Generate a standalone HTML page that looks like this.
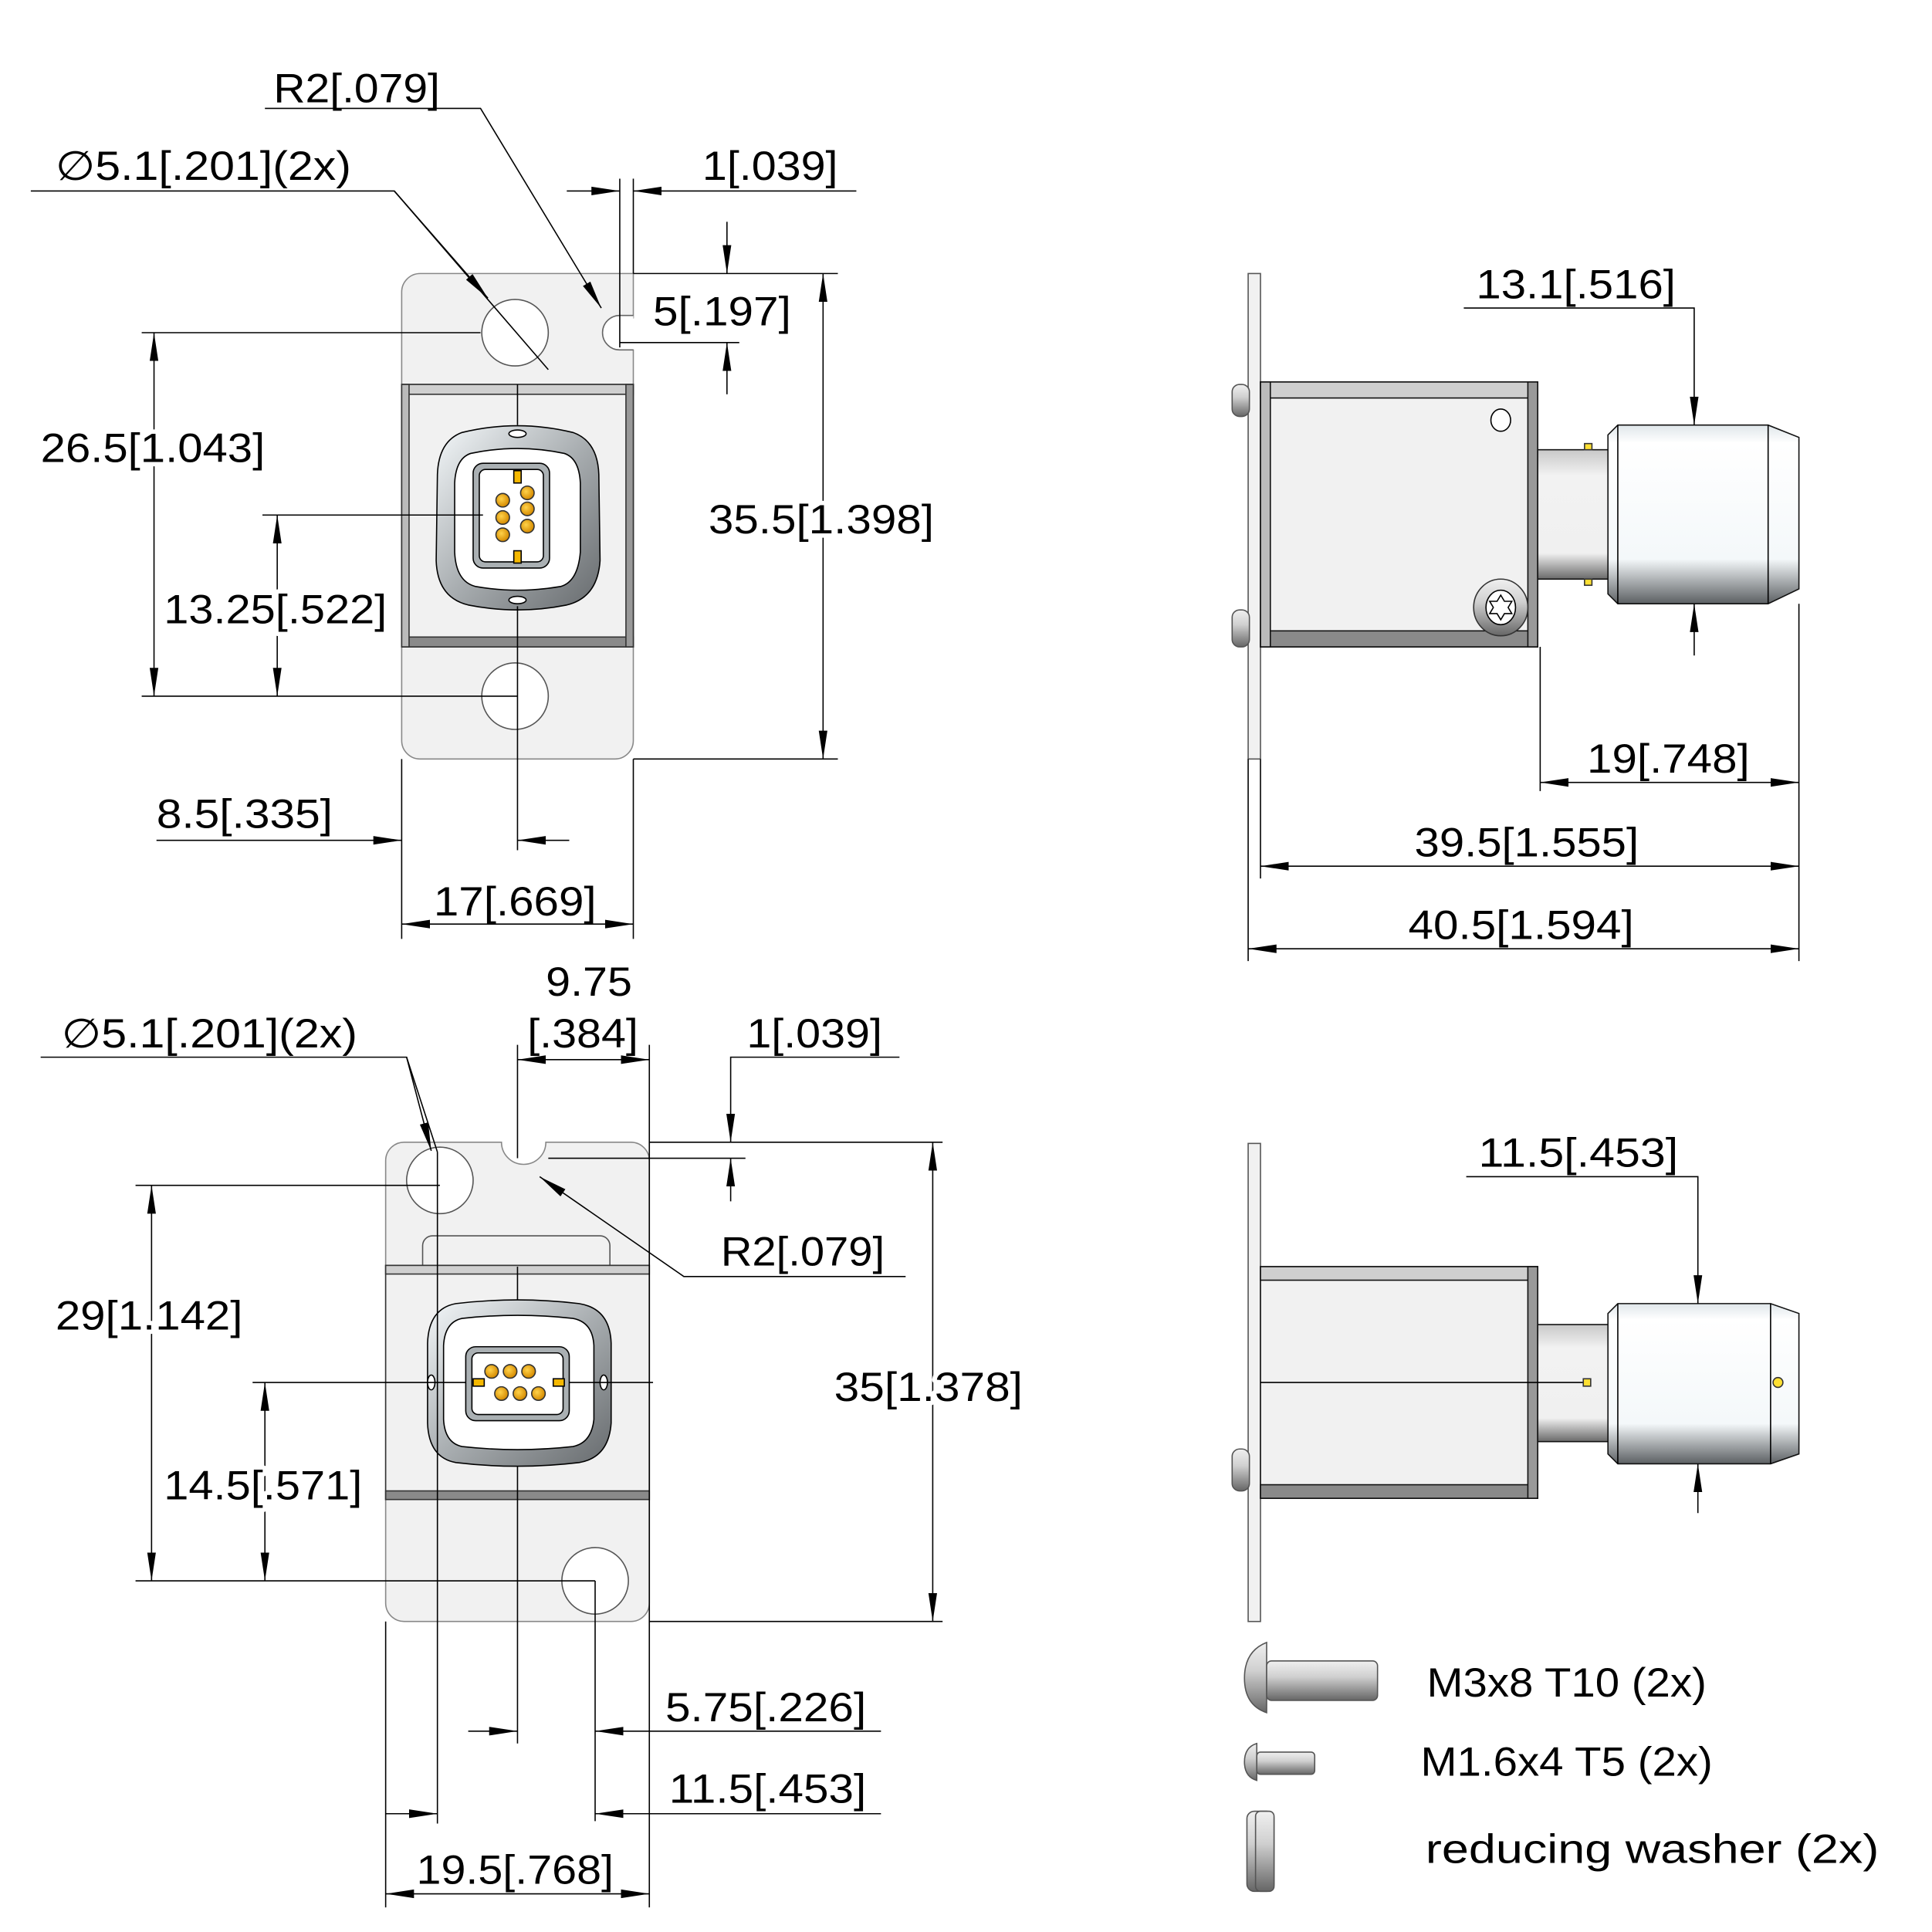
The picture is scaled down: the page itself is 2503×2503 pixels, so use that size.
<!DOCTYPE html>
<html><head><meta charset="utf-8"><style>
html,body{margin:0;padding:0;background:#fff}
svg{display:block}
text{font-family:"Liberation Sans","DejaVu Sans",sans-serif;font-size:33px;fill:#000}
text.h{stroke:#fff;stroke-width:7px;paint-order:stroke;stroke-linejoin:round}
</style></head><body>
<svg width="2503" height="2503" viewBox="0 0 1568 1568" xmlns="http://www.w3.org/2000/svg">
<defs>
<marker id="a" markerUnits="userSpaceOnUse" markerWidth="24" markerHeight="10" refX="23" refY="4" orient="auto-start-reverse"><path d="M0,0.5 L23,4 L0,7.5 z" fill="#000"/></marker>
<linearGradient id="cap" x1="0" y1="0" x2="0" y2="1"><stop offset="0" stop-color="#dfe6ea"/><stop offset="0.1" stop-color="#fff"/><stop offset="0.75" stop-color="#f4f8fa"/><stop offset="1" stop-color="#5c6063"/></linearGradient>
<linearGradient id="neck" x1="0" y1="0" x2="0" y2="1"><stop offset="0" stop-color="#c8c8c8"/><stop offset="0.2" stop-color="#f2f2f2"/><stop offset="0.8" stop-color="#f0f0f0"/><stop offset="1" stop-color="#6a6a6a"/></linearGradient>
<linearGradient id="ring" x1="0" y1="0" x2="1" y2="1"><stop offset="0" stop-color="#f4f8fa"/><stop offset="0.5" stop-color="#a9aeb1"/><stop offset="1" stop-color="#666a6d"/></linearGradient>
<radialGradient id="pin" cx="0.4" cy="0.4" r="0.6"><stop offset="0" stop-color="#ffd24a"/><stop offset="1" stop-color="#d58a00"/></radialGradient>
<linearGradient id="scr" x1="0" y1="0" x2="0" y2="1"><stop offset="0" stop-color="#f0f0f0"/><stop offset="0.4" stop-color="#d0d0d0"/><stop offset="1" stop-color="#666"/></linearGradient>
</defs>

<g stroke="#000" stroke-width="1" fill="none">
<path d="M341,222 H514 V258 A14,14 0 0 0 514,284 V601 A15,15 0 0 1 499,616 H341 A15,15 0 0 1 326,601 V237 A15,15 0 0 1 341,222 Z" fill="#f1f1f1" stroke="#888"/>
<path d="M514,256 H503 A14,14 0 0 0 503,284 H514" fill="#fff" stroke="#666"/>
<circle cx="418" cy="270" r="27" fill="#fff" stroke="#555"/>
<circle cx="418" cy="565" r="27" fill="#fff" stroke="#555"/>
<rect x="326" y="312" width="188" height="213" fill="#f1f1f1" stroke="#333"/>
<rect x="326" y="312" width="188" height="8" fill="#cfcfcf" stroke="#333"/>
<rect x="326" y="517" width="188" height="8" fill="#8a8a8a" stroke="#333"/>
<rect x="326" y="312" width="6" height="213" fill="#bbb" stroke="#333"/>
<rect x="508" y="312" width="6" height="213" fill="#999" stroke="#333"/>
<path d="M375,351 Q420,340 465,351 Q485,358 486,385 L487,455 Q485,485 460,491 Q420,499 380,491 Q355,485 354,455 L355,385 Q356,358 375,351 Z" fill="url(#ring)"/>
<path d="M382,368 Q420,360 458,368 Q470,372 471,392 L471,448 Q469,472 455,476 Q420,482 386,476 Q370,472 369,448 L369,392 Q370,372 382,368 Z" fill="#fff"/>
<rect x="384" y="376" width="62" height="85" rx="8" fill="#aab0b3"/>
<rect x="389" y="381" width="52" height="75" rx="5" fill="#fff"/>
<ellipse cx="420" cy="352" rx="7" ry="3" fill="#fff"/><ellipse cx="420" cy="487" rx="7" ry="3" fill="#fff"/>
<rect x="417" y="382" width="6" height="10" fill="#f5b800"/><rect x="417" y="447" width="6" height="10" fill="#f5b800"/>
<g fill="url(#pin)" stroke="#333"><circle cx="408" cy="406" r="5.5"/><circle cx="408" cy="420" r="5.5"/><circle cx="408" cy="434" r="5.5"/><circle cx="428" cy="400" r="5.5"/><circle cx="428" cy="413" r="5.5"/><circle cx="428" cy="427" r="5.5"/></g>
<line x1="420" y1="312" x2="420" y2="345"/><line x1="420" y1="492" x2="420" y2="690"/>
<line x1="213" y1="418" x2="392" y2="418"/>

<polyline points="215,88 390,88 488,250" marker-end="url(#a)"/>
<polyline points="25,155 320,155 445,300"/>
<line x1="320" y1="155" x2="396" y2="242" marker-end="url(#a)"/>
<line x1="460" y1="155" x2="503" y2="155" marker-end="url(#a)"/>
<line x1="695" y1="155" x2="514" y2="155" marker-end="url(#a)"/>
<line x1="503" y1="145" x2="503" y2="282"/><line x1="514" y1="145" x2="514" y2="222"/>
<line x1="514" y1="222" x2="680" y2="222"/><line x1="503" y1="278" x2="600" y2="278"/>
<line x1="590" y1="180" x2="590" y2="222" marker-end="url(#a)"/>
<line x1="590" y1="320" x2="590" y2="278" marker-end="url(#a)"/>
<line x1="668" y1="222" x2="668" y2="616" marker-start="url(#a)" marker-end="url(#a)"/>
<line x1="514" y1="616" x2="680" y2="616"/>
<line x1="115" y1="270" x2="390" y2="270"/><line x1="115" y1="565" x2="420" y2="565"/>
<line x1="125" y1="270" x2="125" y2="565" marker-start="url(#a)" marker-end="url(#a)"/>
<line x1="225" y1="418" x2="225" y2="565" marker-start="url(#a)" marker-end="url(#a)"/>
<line x1="326" y1="616" x2="326" y2="762"/><line x1="514" y1="616" x2="514" y2="762"/>
<line x1="127" y1="682" x2="326" y2="682" marker-end="url(#a)"/>
<line x1="462" y1="682" x2="420" y2="682" marker-end="url(#a)"/>
<line x1="326" y1="750" x2="514" y2="750" marker-start="url(#a)" marker-end="url(#a)"/>

<rect x="1013" y="222" width="10" height="394" fill="#f1f1f1" stroke="#555"/>
<rect x="1000" y="312" width="14" height="26" rx="6" fill="url(#scr)" stroke="#555"/>
<rect x="1000" y="495" width="14" height="30" rx="6" fill="url(#scr)" stroke="#555"/>
<rect x="1023" y="310" width="225" height="215" fill="#f1f1f1" stroke="#111"/>
<rect x="1023" y="310" width="225" height="13" fill="#cfcfcf" stroke="#111"/>
<rect x="1023" y="512" width="225" height="13" fill="#8a8a8a" stroke="#111"/>
<rect x="1023" y="310" width="8" height="215" fill="#bbb" stroke="#111"/>
<rect x="1240" y="310" width="8" height="215" fill="#999" stroke="#111"/>
<ellipse cx="1218" cy="341" rx="8" ry="9" fill="#fff"/>
<ellipse cx="1218" cy="493" rx="22" ry="23" fill="url(#scr)" stroke="#333"/>
<ellipse cx="1218" cy="493" rx="12" ry="14" fill="#fff"/>
<path d="M1218,483 l3,5 6,0 -3,5 3,5 -6,0 -3,5 -3,-5 -6,0 3,-5 -3,-5 6,0z" fill="#fff"/>
<rect x="1248" y="365" width="58" height="105" fill="url(#neck)" stroke="#111"/>
<rect x="1286" y="360" width="6" height="5" fill="#ffe033" stroke="#333"/><rect x="1286" y="470" width="6" height="5" fill="#ffe033" stroke="#333"/>
<path d="M1313,345 H1435 L1460,355 V478 L1435,490 H1313 L1305,482 V353 Z" fill="url(#cap)" stroke="#111"/>
<line x1="1313" y1="345" x2="1313" y2="490"/><line x1="1435" y1="345" x2="1435" y2="490"/>
<polyline points="1188,250 1375,250 1375,345" marker-end="url(#a)"/>
<line x1="1375" y1="532" x2="1375" y2="490" marker-end="url(#a)"/>
<line x1="1250" y1="525" x2="1250" y2="642"/><line x1="1460" y1="490" x2="1460" y2="780"/>
<line x1="1023" y1="616" x2="1023" y2="713"/><line x1="1013" y1="616" x2="1013" y2="780"/>
<line x1="1250" y1="635" x2="1460" y2="635" marker-start="url(#a)" marker-end="url(#a)"/>
<line x1="1023" y1="703" x2="1460" y2="703" marker-start="url(#a)" marker-end="url(#a)"/>
<line x1="1013" y1="770" x2="1460" y2="770" marker-start="url(#a)" marker-end="url(#a)"/>

<path d="M328,927 H407 A18,18 0 0 0 443,927 H512 A15,15 0 0 1 527,942 V1301 A15,15 0 0 1 512,1316 H328 A15,15 0 0 1 313,1301 V942 A15,15 0 0 1 328,927 Z" fill="#f1f1f1" stroke="#888"/>
<circle cx="357" cy="958" r="27" fill="#fff" stroke="#555"/>
<circle cx="483" cy="1283" r="27" fill="#fff" stroke="#555"/>
<rect x="343" y="1003" width="152" height="40" rx="8" fill="#f1f1f1" stroke="#555"/>
<rect x="313" y="1027" width="214" height="190" fill="#f1f1f1" stroke="#333"/>
<rect x="313" y="1027" width="214" height="7" fill="#cfcfcf" stroke="#333"/>
<rect x="313" y="1210" width="214" height="7" fill="#8a8a8a" stroke="#333"/>
<path d="M370,1058 Q420,1052 470,1058 Q495,1062 496,1090 L496,1155 Q494,1183 470,1187 Q420,1193 370,1187 Q348,1183 347,1155 L347,1090 Q348,1062 370,1058 Z" fill="url(#ring)"/>
<path d="M375,1070 Q420,1065 465,1070 Q481,1073 482,1092 L482,1152 Q480,1171 465,1174 Q420,1179 375,1174 Q361,1171 360,1152 L360,1092 Q361,1073 375,1070 Z" fill="#fff"/>
<rect x="378" y="1093" width="84" height="60" rx="8" fill="#aab0b3"/>
<rect x="383" y="1098" width="74" height="50" rx="5" fill="#fff"/>
<rect x="384" y="1119" width="9" height="6" fill="#f5b800"/><rect x="449" y="1119" width="9" height="6" fill="#f5b800"/>
<ellipse cx="350" cy="1122" rx="3" ry="6" fill="#fff"/><ellipse cx="490" cy="1122" rx="3" ry="6" fill="#fff"/>
<g fill="url(#pin)" stroke="#333"><circle cx="399" cy="1113" r="5.5"/><circle cx="414" cy="1113" r="5.5"/><circle cx="429" cy="1113" r="5.5"/><circle cx="407" cy="1131" r="5.5"/><circle cx="422" cy="1131" r="5.5"/><circle cx="437" cy="1131" r="5.5"/></g>
<line x1="420" y1="1028" x2="420" y2="1055"/><line x1="420" y1="1190" x2="420" y2="1415"/>
<line x1="205" y1="1122" x2="378" y2="1122"/><line x1="462" y1="1122" x2="530" y2="1122"/>

<line x1="420" y1="848" x2="420" y2="940"/><line x1="527" y1="848" x2="527" y2="1548"/>
<line x1="420" y1="860" x2="527" y2="860" marker-start="url(#a)" marker-end="url(#a)"/>
<polyline points="33,858 330,858 355,935" />
<line x1="330" y1="858" x2="350" y2="934" marker-end="url(#a)"/>
<line x1="355" y1="935" x2="355" y2="1480"/>
<polyline points="730,858 593,858 593,927" marker-end="url(#a)"/>
<line x1="593" y1="975" x2="593" y2="940" marker-end="url(#a)"/>
<line x1="527" y1="927" x2="765" y2="927"/><line x1="445" y1="940" x2="605" y2="940"/>
<polyline points="735,1036 555,1036 438,955" marker-end="url(#a)"/>
<line x1="757" y1="927" x2="757" y2="1316" marker-start="url(#a)" marker-end="url(#a)"/>
<line x1="527" y1="1316" x2="765" y2="1316"/>
<line x1="110" y1="962" x2="357" y2="962"/><line x1="110" y1="1283" x2="483" y2="1283"/>
<line x1="123" y1="962" x2="123" y2="1283" marker-start="url(#a)" marker-end="url(#a)"/>
<line x1="215" y1="1122" x2="215" y2="1283" marker-start="url(#a)" marker-end="url(#a)"/>
<line x1="483" y1="1283" x2="483" y2="1478"/><line x1="313" y1="1316" x2="313" y2="1548"/>
<line x1="380" y1="1405" x2="420" y2="1405" marker-end="url(#a)"/>
<line x1="715" y1="1405" x2="483" y2="1405" marker-end="url(#a)"/>
<line x1="313" y1="1472" x2="355" y2="1472" marker-end="url(#a)"/>
<line x1="715" y1="1472" x2="483" y2="1472" marker-end="url(#a)"/>
<line x1="313" y1="1537" x2="527" y2="1537" marker-start="url(#a)" marker-end="url(#a)"/>

<rect x="1013" y="928" width="10" height="388" fill="#f1f1f1" stroke="#555"/>
<rect x="1000" y="1176" width="14" height="34" rx="6" fill="url(#scr)" stroke="#555"/>
<rect x="1023" y="1028" width="225" height="188" fill="#f1f1f1" stroke="#111"/>
<rect x="1023" y="1028" width="225" height="11" fill="#cfcfcf" stroke="#111"/>
<rect x="1023" y="1205" width="225" height="11" fill="#8a8a8a" stroke="#111"/>
<rect x="1240" y="1028" width="8" height="188" fill="#999" stroke="#111"/>
<rect x="1248" y="1075" width="58" height="95" fill="url(#neck)" stroke="#111"/>
<path d="M1313,1058 H1437 L1460,1066 V1180 L1437,1188 H1313 L1305,1180 V1066 Z" fill="url(#cap)" stroke="#111"/>
<line x1="1313" y1="1058" x2="1313" y2="1188"/><line x1="1437" y1="1058" x2="1437" y2="1188"/>
<line x1="1023" y1="1122" x2="1285" y2="1122"/>
<rect x="1285" y="1119" width="6" height="6" fill="#ffe033" stroke="#333"/>
<circle cx="1443" cy="1122" r="4" fill="#ffe033" stroke="#333"/>
<polyline points="1190,955 1378,955 1378,1058" marker-end="url(#a)"/>
<line x1="1378" y1="1228" x2="1378" y2="1188" marker-end="url(#a)"/>

<path d="M1028,1333 Q1010,1340 1010,1362 Q1010,1384 1028,1390 Z" fill="url(#scr)" stroke="#555"/>
<rect x="1028" y="1348" width="90" height="32" rx="4" fill="url(#scr)" stroke="#555"/>
<path d="M1020,1415 Q1010,1418 1010,1430 Q1010,1442 1020,1445 Z" fill="url(#scr)" stroke="#555"/>
<rect x="1020" y="1422" width="47" height="18" rx="3" fill="url(#scr)" stroke="#555"/>
<rect x="1012" y="1470" width="22" height="65" rx="6" fill="url(#scr)" stroke="#555"/>
<rect x="1019" y="1470" width="15" height="65" rx="4" fill="url(#scr)" stroke="#555"/>
</g>

<g>
<text x="222" y="83" textLength="135" lengthAdjust="spacingAndGlyphs">R2[.079]</text>
<text x="45" y="146" textLength="240" lengthAdjust="spacingAndGlyphs">∅5.1[.201](2x)</text>
<text x="570" y="146" textLength="110" lengthAdjust="spacingAndGlyphs">1[.039]</text>
<text x="530" y="264" textLength="112" lengthAdjust="spacingAndGlyphs">5[.197]</text>
<text class="h" x="33" y="375" textLength="182" lengthAdjust="spacingAndGlyphs">26.5[1.043]</text>
<text class="h" x="575" y="433" textLength="183" lengthAdjust="spacingAndGlyphs">35.5[1.398]</text>
<text class="h" x="133" y="506" textLength="181" lengthAdjust="spacingAndGlyphs">13.25[.522]</text>
<text x="127" y="672" textLength="143" lengthAdjust="spacingAndGlyphs">8.5[.335]</text>
<text x="352" y="743" textLength="132" lengthAdjust="spacingAndGlyphs">17[.669]</text>
<text x="1198" y="242" textLength="162" lengthAdjust="spacingAndGlyphs">13.1[.516]</text>
<text x="1288" y="627" textLength="132" lengthAdjust="spacingAndGlyphs">19[.748]</text>
<text x="1148" y="695" textLength="182" lengthAdjust="spacingAndGlyphs">39.5[1.555]</text>
<text x="1143" y="762" textLength="183" lengthAdjust="spacingAndGlyphs">40.5[1.594]</text>
<text x="443" y="808" textLength="70" lengthAdjust="spacingAndGlyphs">9.75</text>
<text x="428" y="850" textLength="90" lengthAdjust="spacingAndGlyphs">[.384]</text>
<text x="50" y="850" textLength="240" lengthAdjust="spacingAndGlyphs">∅5.1[.201](2x)</text>
<text x="606" y="850" textLength="110" lengthAdjust="spacingAndGlyphs">1[.039]</text>
<text x="585" y="1027" textLength="133" lengthAdjust="spacingAndGlyphs">R2[.079]</text>
<text class="h" x="45" y="1079" textLength="152" lengthAdjust="spacingAndGlyphs">29[1.142]</text>
<text class="h" x="677" y="1137" textLength="153" lengthAdjust="spacingAndGlyphs">35[1.378]</text>
<text class="h" x="133" y="1217" textLength="161" lengthAdjust="spacingAndGlyphs">14.5[.571]</text>
<text x="540" y="1397" textLength="163" lengthAdjust="spacingAndGlyphs">5.75[.226]</text>
<text x="543" y="1463" textLength="160" lengthAdjust="spacingAndGlyphs">11.5[.453]</text>
<text x="338" y="1529" textLength="160" lengthAdjust="spacingAndGlyphs">19.5[.768]</text>
<text x="1200" y="947" textLength="162" lengthAdjust="spacingAndGlyphs">11.5[.453]</text>
<text x="1158" y="1377" textLength="227" lengthAdjust="spacingAndGlyphs">M3x8 T10 (2x)</text>
<text x="1153" y="1441" textLength="237" lengthAdjust="spacingAndGlyphs">M1.6x4 T5 (2x)</text>
<text x="1157" y="1512" textLength="368" lengthAdjust="spacingAndGlyphs">reducing washer (2x)</text>
</g>
</svg>
</body></html>
